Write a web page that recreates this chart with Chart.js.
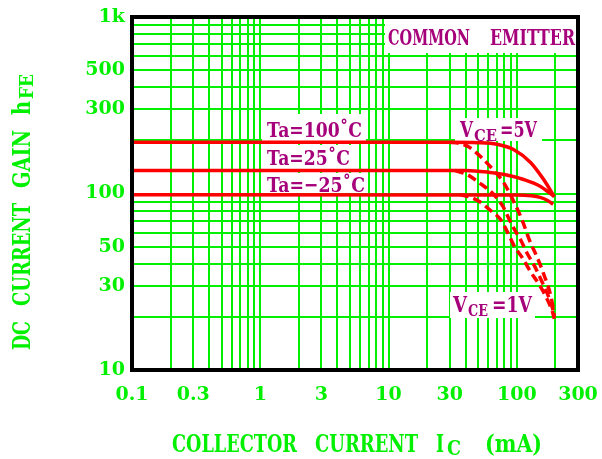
<!DOCTYPE html>
<html>
<head>
<meta charset="utf-8">
<script src="https://cdn.jsdelivr.net/npm/chart.js@4.4.0/dist/chart.umd.min.js"></script>
<style>
  html, body { margin: 0; padding: 0; background: #fff; }
  canvas { display: block; }
</style>
</head>
<body>
<canvas id="hfeChart" width="602" height="459"></canvas>
<script>
// Ic (mA) and hFE values
// VCE = 5V (solid)
const ic5_100  = [0.1, 30, 50, 70, 95, 128, 162, 196];
const hfe5_100 = [195, 195, 194, 190, 177, 150, 120, 96];
const ic5_25   = [0.1, 40, 60, 80, 113, 152, 196];
const hfe5_25  = [135, 135, 132, 128, 120, 110, 96];
const ic5_m25  = [0.1, 100, 130, 152, 175, 192];
const hfe5_m25 = [98.5, 98, 97, 95, 91, 87];
// VCE = 1V (dashed)
const ic1_100  = [30, 36, 42, 53, 65, 78, 98, 111, 126, 143, 162, 188, 196];
const hfe1_100 = [195, 192, 184, 160, 137, 117, 85.5, 69.5, 54, 44, 35, 24.5, 20];
const ic1_25   = [33, 41, 51, 65, 78, 83, 93, 108, 120, 137, 156, 177, 191, 196];
const hfe1_25  = [135, 128, 115, 100, 84.5, 77, 65, 54, 46, 39, 32, 26, 22, 20];
const ic1_m25  = [36, 42, 51, 64, 75, 85, 96, 111, 128, 149, 171, 191, 196];
const hfe1_m25 = [98.5, 96, 90, 79, 71, 60, 50, 43, 36, 30.6, 25.5, 21, 19.5];

// tick labels
const xTicks = [0.1, 0.3, 1, 3, 10, 30, 100, 300];
const yTicks = [10, 30, 50, 100, 300, 500, 1000];
const yTickText = ['10', '30', '50', '100', '300', '500', '1k'];

const GREEN = '#00f000';
const PURPLE = '#a6007a';
const RED = '#ff0000';

// 1..9 steps in every decade, for the grid
function decadeSteps(lo, hi) {
  const out = [];
  for (let d = lo; d < hi * 1.0001; d *= 10) {
    for (let m = 1; m <= 9; m++) {
      const v = +(m * d).toPrecision(3);
      if (v <= hi * 1.0001) out.push(v);
    }
  }
  return out;
}
const xGrid = decadeSteps(0.1, 300);
const yGrid = decadeSteps(10, 1000);

function pts(xs, ys) {
  return xs.map((x, i) => ({ x: x, y: ys[i] }));
}
function near(a, b) { return Math.abs(a - b) / b < 1e-6; }

function curve(xs, ys, dashed) {
  return {
    data: pts(xs, ys),
    borderColor: RED,
    borderWidth: 3.5,
    borderDash: dashed ? [9, 5] : [],
    pointRadius: 0,
    cubicInterpolationMode: 'monotone',
    fill: false
  };
}

// stretch text horizontally so it spans x0..x1
function fitText(ctx, s, x0, x1, base, size, color) {
  ctx.font = 'bold ' + size + 'px "DejaVu Serif"';
  const w = ctx.measureText(s).width;
  ctx.save();
  ctx.translate(x0, base);
  ctx.scale((x1 - x0) / w, 1);
  ctx.fillStyle = color;
  ctx.textAlign = 'left';
  ctx.textBaseline = 'alphabetic';
  ctx.fillText(s, 0, 0);
  ctx.restore();
}

// same, but rotated to read bottom to top, from y0 up to y1
function fitTextUp(ctx, s, y0, y1, baseX, size, color) {
  ctx.font = 'bold ' + size + 'px "DejaVu Serif"';
  const w = ctx.measureText(s).width;
  ctx.save();
  ctx.translate(baseX, y0);
  ctx.rotate(-Math.PI / 2);
  ctx.scale((y0 - y1) / w, 1);
  ctx.fillStyle = color;
  ctx.textAlign = 'left';
  ctx.textBaseline = 'alphabetic';
  ctx.fillText(s, 0, 0);
  ctx.restore();
}

const labelsPlugin = {
  id: 'labels',
  beforeDatasetsDraw(chart) {
    const ctx = chart.ctx;
    // white patches behind the annotations
    ctx.save();
    ctx.fillStyle = '#fff';
    [[385, 18, 576, 53], [262, 114, 366, 141], [262, 145, 357, 169],
     [262, 173, 366, 193], [455, 118, 542, 141], [450, 292, 535, 318]]
      .forEach(b => ctx.fillRect(b[0], b[1], b[2] - b[0], b[3] - b[1]));
    ctx.restore();

    fitText(ctx, 'COMMON', 388, 470, 45, 23, PURPLE);
    fitText(ctx, 'EMITTER', 490, 575, 45, 23, PURPLE);

    fitText(ctx, 'Ta=100\u02daC', 267, 362, 137, 21, PURPLE);
    fitText(ctx, 'Ta=25\u02daC', 267, 350, 165, 21, PURPLE);
    fitText(ctx, 'Ta=\u221225\u02daC', 267, 365, 192, 21, PURPLE);

    fitText(ctx, 'V', 460, 473, 137, 23, PURPLE);
    fitText(ctx, 'CE', 474, 497, 141, 17, PURPLE);
    fitText(ctx, '=5V', 500, 537, 137, 23, PURPLE);

    fitText(ctx, 'V', 453, 467, 312, 23, PURPLE);
    fitText(ctx, 'CE', 468, 488, 316, 17, PURPLE);
    fitText(ctx, '=1V', 492, 532, 312, 23, PURPLE);
  },
  afterDraw(chart) {
    const ctx = chart.ctx;
    const a = chart.chartArea;
    ctx.save();
    ctx.strokeStyle = '#000';
    ctx.lineWidth = 4;
    ctx.strokeRect(a.left, a.top, a.right - a.left, a.bottom - a.top);
    ctx.restore();

    // axis titles
    fitText(ctx, 'COLLECTOR', 172, 297, 452, 25, GREEN);
    fitText(ctx, 'CURRENT', 315, 418, 452, 25, GREEN);
    fitText(ctx, 'I', 436, 444, 452, 25, GREEN);
    fitText(ctx, 'C', 447, 461, 455, 20, GREEN);
    fitText(ctx, '(mA)', 485, 542, 452, 25, GREEN);

    fitTextUp(ctx, 'DC', 350, 321, 30, 25, GREEN);
    fitTextUp(ctx, 'CURRENT', 306, 203, 30, 25, GREEN);
    fitTextUp(ctx, 'GAIN', 188, 130, 30, 25, GREEN);
    fitTextUp(ctx, 'h', 115, 101, 30, 25, GREEN);
    fitTextUp(ctx, 'FE', 99, 74, 33, 18, GREEN);
  }
};

const tickFont = { family: 'DejaVu Serif', weight: 'bold', size: 19 };

new Chart(document.getElementById('hfeChart'), {
  type: 'line',
  data: {
    datasets: [
      curve(ic1_100, hfe1_100, true),
      curve(ic1_25, hfe1_25, true),
      curve(ic1_m25, hfe1_m25, true),
      curve(ic5_100, hfe5_100, false),
      curve(ic5_25, hfe5_25, false),
      curve(ic5_m25, hfe5_m25, false)
    ]
  },
  options: {
    responsive: false,
    animation: false,
    devicePixelRatio: 1,
    layout: { padding: { top: 17, right: 24, left: 0, bottom: 0 } },
    plugins: { legend: { display: false }, tooltip: { enabled: false } },
    scales: {
      x: {
        type: 'logarithmic',
        min: 0.1,
        max: 300,
        afterBuildTicks: s => { s.ticks = xGrid.map(v => ({ value: v })); },
        afterFit: s => { s.height = 89; s.paddingLeft = 0; s.paddingRight = 0; },
        grid: { color: GREEN, lineWidth: 2, drawTicks: false },
        border: { display: false },
        ticks: {
          autoSkip: false,
          maxRotation: 0,
          padding: 14,
          color: GREEN,
          font: tickFont,
          callback: v => {
            const t = xTicks.find(t => near(v, t));
            return t === undefined ? '' : String(t);
          }
        }
      },
      y: {
        type: 'logarithmic',
        min: 10,
        max: 1000,
        afterBuildTicks: s => { s.ticks = yGrid.map(v => ({ value: v })); },
        afterFit: s => { s.width = 132; s.paddingTop = 0; s.paddingBottom = 0; },
        grid: { color: GREEN, lineWidth: 2, drawTicks: false },
        border: { display: false },
        ticks: {
          autoSkip: false,
          padding: 7,
          color: GREEN,
          font: tickFont,
          callback: v => {
            const i = yTicks.findIndex(t => near(v, t));
            return i < 0 ? '' : yTickText[i];
          }
        }
      }
    }
  },
  plugins: [labelsPlugin]
});
</script>
</body>
</html>
